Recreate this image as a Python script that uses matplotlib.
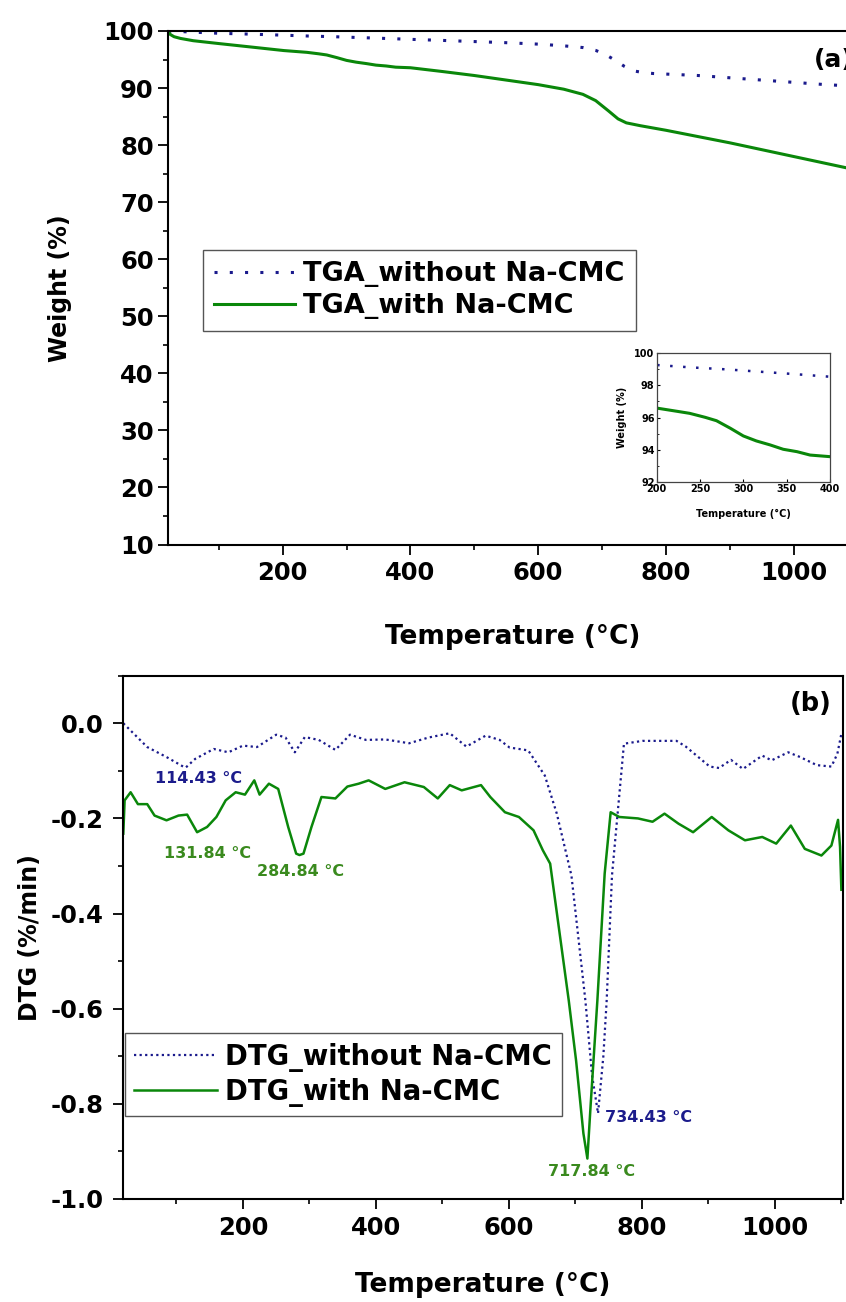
import matplotlib.pyplot as plt
from matplotlib.ticker import MultipleLocator

W, H = 846, 1302

NAVY = '#1a1a8c'
GREEN = '#0a870a'
NAVY_TXT = '#1c1c8c'
GREEN_TXT = '#3a8a1e'

# panel (a) TGA, weight %
tga_temp_without = [21, 60, 100, 150, 200, 240, 280, 320, 360, 400, 450, 500, 550, 600,
                    640, 670, 690, 705, 720, 735, 750, 765, 780, 800, 850, 900, 950, 1000,
                    1050, 1100]
tga_without = [100.0, 99.8, 99.6, 99.45, 99.27, 99.12, 99.0, 98.85, 98.7, 98.54, 98.35,
               98.15, 97.95, 97.7, 97.4, 97.1, 96.6, 95.9, 94.9, 93.8, 93.0, 92.7, 92.55,
               92.45, 92.2, 91.8, 91.4, 91.0, 90.6, 90.3]
tga_temp_with = [21, 24, 30, 40, 60, 100, 150, 202, 223, 238, 256, 269, 285, 300, 315, 331,
                 346, 362, 377, 400, 450, 500, 550, 600, 640, 670, 690, 710, 725, 738, 760,
                 800, 850, 900, 950, 1000, 1050, 1100]
tga_with = [100.0, 99.4, 99.0, 98.7, 98.3, 97.8, 97.2, 96.57, 96.39, 96.26, 96.01, 95.8,
            95.33, 94.85, 94.54, 94.29, 94.02, 93.87, 93.66, 93.56, 92.9, 92.2, 91.4, 90.6,
            89.8, 88.9, 87.8, 86.0, 84.6, 83.9, 83.4, 82.6, 81.5, 80.4, 79.2, 78.0, 76.8,
            75.6]

# panel (b) DTG, %/min
dtg_temp_without = [20, 56, 85, 110, 114, 128, 156, 178, 200, 221, 250, 264, 278, 293, 314,
                    339, 361, 385, 414, 450, 479, 511, 536, 565, 586, 601, 629, 654, 672,
                    694, 715, 725, 734, 742, 747, 755, 773, 801, 852, 866, 902, 916, 934,
                    952, 981, 995, 1020, 1038, 1063, 1085, 1094, 1100]
dtg_without = [0.0, -0.05, -0.071, -0.091, -0.093, -0.075, -0.054, -0.061, -0.047, -0.05,
               -0.024, -0.03, -0.061, -0.029, -0.035, -0.056, -0.024, -0.035, -0.034,
               -0.042, -0.03, -0.021, -0.049, -0.026, -0.035, -0.051, -0.057, -0.11, -0.19,
               -0.32, -0.583, -0.74, -0.82, -0.70, -0.583, -0.32, -0.043, -0.037, -0.037,
               -0.049, -0.091, -0.094, -0.077, -0.096, -0.068, -0.078, -0.061, -0.071,
               -0.088, -0.091, -0.064, -0.022]
dtg_temp_with = [20, 22, 31, 42, 56, 67, 85, 103, 116, 131, 146, 160, 174, 189, 203, 217,
                 225, 239, 253, 268, 280, 285, 291, 303, 318, 339, 357, 374, 389, 414, 443,
                 472, 493, 511, 529, 558, 572, 594, 615, 637, 651, 662, 690, 701, 712, 718,
                 723, 733, 744, 753, 766, 794, 816, 834, 855, 877, 905, 930, 955, 981, 1002,
                 1024, 1045, 1070, 1085, 1095, 1098, 1100]
dtg_with = [-0.232, -0.162, -0.145, -0.17, -0.17, -0.194, -0.204, -0.194, -0.192, -0.229,
            -0.218, -0.197, -0.162, -0.145, -0.15, -0.12, -0.15, -0.127, -0.138, -0.218,
            -0.274, -0.277, -0.274, -0.218, -0.155, -0.158, -0.133, -0.127, -0.12, -0.138,
            -0.124, -0.134, -0.158, -0.13, -0.141, -0.13, -0.155, -0.187, -0.197, -0.225,
            -0.267, -0.295, -0.583, -0.709, -0.862, -0.915, -0.80, -0.583, -0.316, -0.187,
            -0.197, -0.2, -0.207, -0.19, -0.211, -0.229, -0.197, -0.225, -0.246, -0.239,
            -0.253, -0.215, -0.264, -0.278, -0.257, -0.203, -0.26, -0.35]

peaks_without = [114.43, 734.43]
peaks_with = [131.84, 284.84, 717.84]


def px_box(x0, y0, x1, y1):
    return [x0 / W, 1 - y1 / H, (x1 - x0) / W, (y1 - y0) / H]


def style_axis(ax, xpad, ypad):
    for s in ax.spines.values():
        s.set_linewidth(1.5)
    ax.tick_params(which='major', direction='out', length=7, width=1.3,
                   labelsize=17.5, top=False, right=False)
    ax.tick_params(which='minor', direction='out', length=3.5, width=1.2,
                   top=False, right=False)
    ax.tick_params(axis='x', pad=xpad)
    ax.tick_params(axis='y', pad=ypad)
    ax.xaxis.set_major_locator(MultipleLocator(200))
    ax.xaxis.set_minor_locator(MultipleLocator(100))


def boxed_legend(ax, x, y, size, pad=0.42):
    leg = ax.legend(loc='upper left', bbox_to_anchor=(x / W, 1 - y / H),
                    bbox_transform=fig.transFigure, fontsize=size, fancybox=False,
                    edgecolor='#555555', framealpha=1, handlelength=3.0,
                    handletextpad=0.3, borderpad=pad, labelspacing=0.22,
                    borderaxespad=0)
    leg.get_frame().set_linewidth(1.0)
    return leg


plt.rcParams['font.family'] = ['DejaVu Sans']
plt.rcParams['font.weight'] = 'bold'
plt.rcParams['axes.labelweight'] = 'bold'

fig = plt.figure(figsize=(W / 100, H / 100), dpi=100)

# (a) TGA
ax1 = fig.add_axes(px_box(168.3, 31, 857.6, 544.5))
ax1.plot(tga_temp_without, tga_without, color=NAVY, lw=2.2,
         linestyle=(0, (1, 4)), label='TGA_without Na-CMC')
ax1.plot(tga_temp_with, tga_with, color=GREEN, lw=2.2, label='TGA_with Na-CMC')
ax1.set_xlim(21, 1100)
ax1.set_ylim(10, 100)
style_axis(ax1, 5, 3.5)
ax1.yaxis.set_major_locator(MultipleLocator(10))
ax1.yaxis.set_minor_locator(MultipleLocator(5))
ax1.set_xlabel('Temperature (°C)', fontsize=19)
ax1.set_ylabel('Weight (%)', fontsize=17)
ax1.xaxis.set_label_coords(0.5, -0.155)
ax1.yaxis.set_label_coords(-0.14, 0.5)
ax1.text(1031, 94.9, '(a)', fontsize=18, va='center', ha='left')
boxed_legend(ax1, 202.7, 250, 19.5)

# inset zoom 200-400 C
axin = fig.add_axes(px_box(656.7, 353.3, 830, 481.7))
axin.plot(tga_temp_without, tga_without, color=NAVY, lw=1.8, linestyle=(0, (1, 4.2)))
axin.plot(tga_temp_with, tga_with, color=GREEN, lw=2.2)
axin.set_xlim(200, 400)
axin.set_ylim(92, 100)
axin.xaxis.set_major_locator(MultipleLocator(50))
axin.yaxis.set_major_locator(MultipleLocator(2))
axin.yaxis.set_minor_locator(MultipleLocator(1))
axin.tick_params(which='major', direction='in', length=2.5, width=0.8, labelsize=7, pad=1.5)
axin.tick_params(which='minor', direction='in', length=1.5, width=0.6)
for s in axin.spines.values():
    s.set_linewidth(0.9)
    s.set_color('#444444')
axin.set_xlabel('Temperature (°C)', fontsize=7)
axin.set_ylabel('Weight (%)', fontsize=7)
axin.xaxis.set_label_coords(0.5, -0.21)
axin.yaxis.set_label_coords(-0.17, 0.5)

# (b) DTG
ax2 = fig.add_axes(px_box(123.3, 675.7, 842.7, 1199))
ax2.plot(dtg_temp_without, dtg_without, color=NAVY, lw=1.6,
         linestyle=(0, (1, 1.5)), label='DTG_without Na-CMC')
ax2.plot(dtg_temp_with, dtg_with, color=GREEN, lw=1.8, label='DTG_with Na-CMC')
ax2.set_xlim(20, 1102)
ax2.set_ylim(-1.0, 0.1)
style_axis(ax2, 5, 7)
ax2.yaxis.set_major_locator(MultipleLocator(0.2))
ax2.yaxis.set_minor_locator(MultipleLocator(0.1))
ax2.yaxis.set_major_formatter(lambda v, p: f'{v:.1f}'.replace('-0.0', '0.0'))
ax2.set_xlabel('Temperature (°C)', fontsize=19)
ax2.set_ylabel('DTG (%/min)', fontsize=17)
ax2.xaxis.set_label_coords(0.5, -0.14)
ax2.yaxis.set_label_coords(-0.113, 0.5)
ax2.text(1023, 0.041, '(b)', fontsize=18.5, va='center', ha='left')

label_pos_without = [(67, -0.116), (744, -0.828)]
label_pos_with = [(81, -0.274), (221, -0.311), (659, -0.942)]
for t, (lx, ly) in zip(peaks_without, label_pos_without):
    ax2.text(lx, ly, f'{t:.2f} °C', color=NAVY_TXT, fontsize=11.5, va='center', ha='left')
for t, (lx, ly) in zip(peaks_with, label_pos_with):
    ax2.text(lx, ly, f'{t:.2f} °C', color=GREEN_TXT, fontsize=11.5, va='center', ha='left')

boxed_legend(ax2, 124.8, 1033, 19.8, pad=0.35)

fig.savefig('out.png', dpi=100, facecolor='white')
